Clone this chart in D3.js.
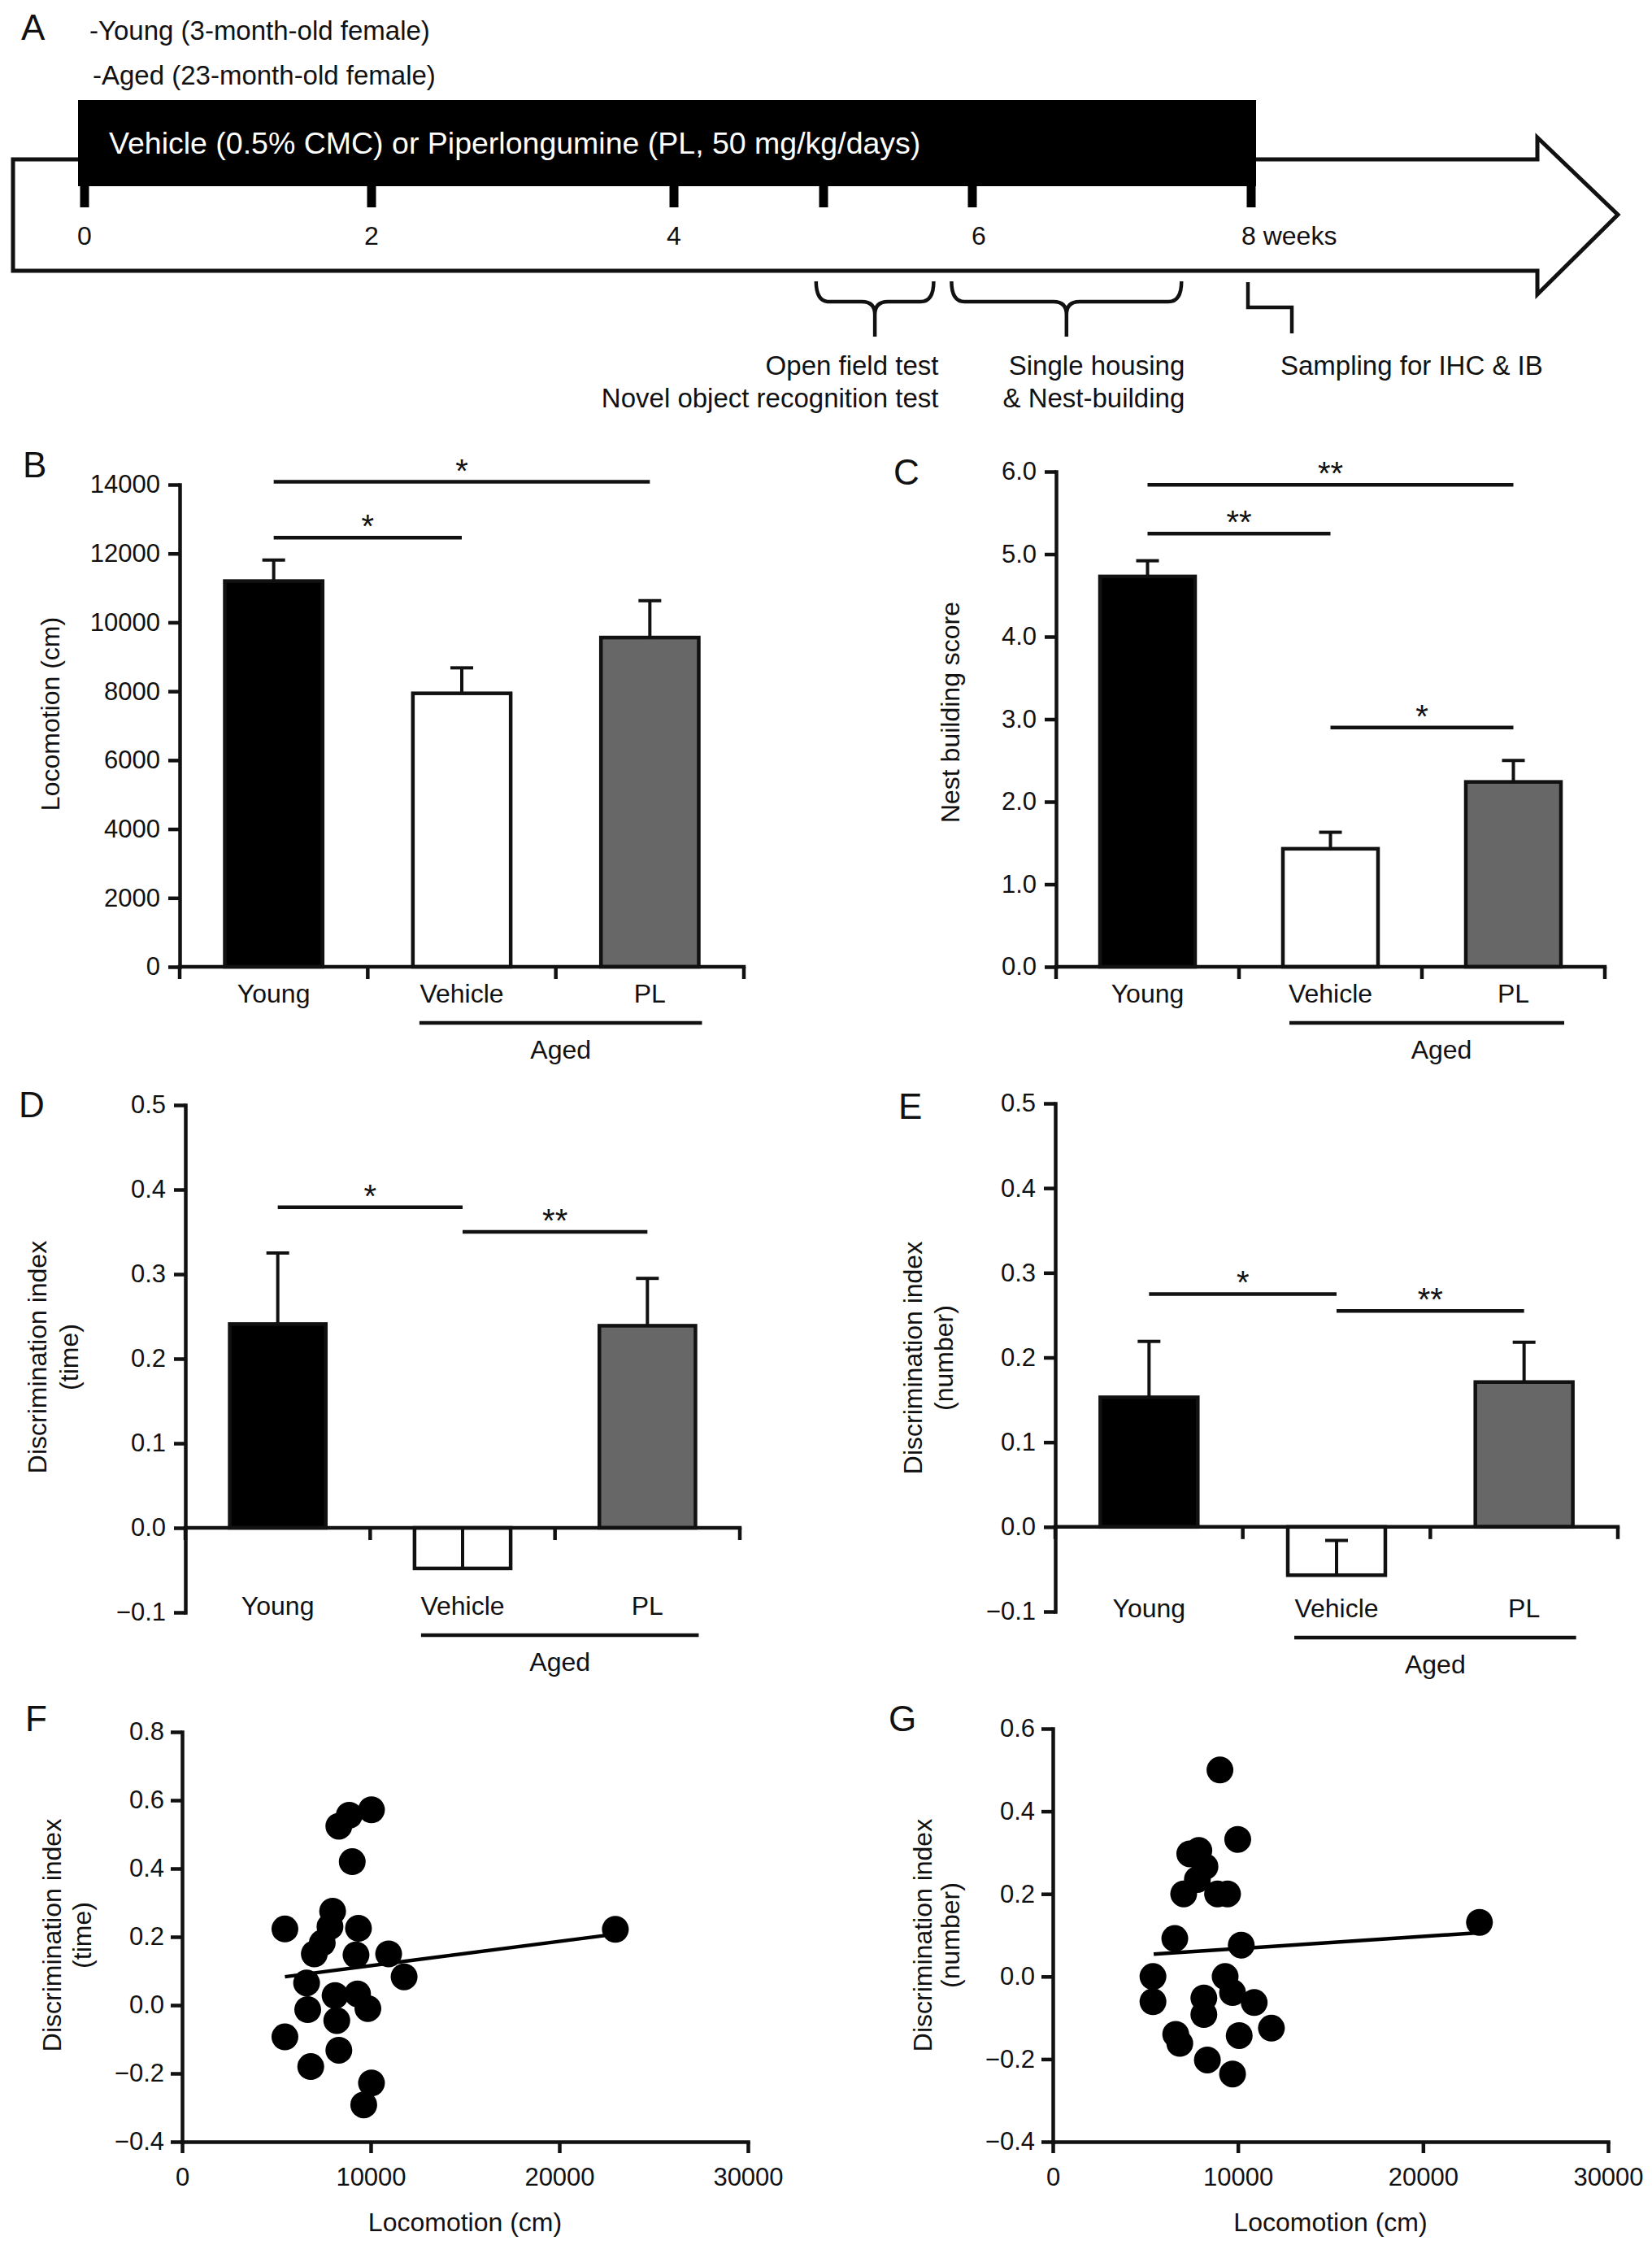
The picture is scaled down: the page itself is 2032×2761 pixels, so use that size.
<!DOCTYPE html>
<html>
<head>
<meta charset="utf-8">
<script src="https://cdn.jsdelivr.net/npm/d3@7"></script>
<style>
  body { margin: 0; background: #fff; }
  svg text { font-family: 'Liberation Sans', Arial, Helvetica, sans-serif; fill: #111; }
</style>
</head>
<body>
<svg id="fig" width="2032" height="2761"></svg>
<script>
// ---- data ----
const groups = ['Young', 'Vehicle', 'PL'];
const groupFill = ['#000000', '#ffffff', '#676767'];

const locomotionMean = [11200, 7940, 9560];
const locomotionSem = [610, 740, 1070];
const nestMean = [4.73, 1.43, 2.24];
const nestSem = [0.19, 0.20, 0.26];
const diTimeMean = [0.241, -0.048, 0.239];
const diTimeSem = [0.084, 0.048, 0.056];
const diNumMean = [0.153, -0.057, 0.171];
const diNumSem = [0.066, 0.041, 0.047];

// significance brackets: [from, to, level, mark]
const sigB = [['Young', 'Vehicle', 12460, '*'], ['Young', 'PL', 14080, '*']];
const sigC = [['Young', 'Vehicle', 5.25, '**'], ['Young', 'PL', 5.84, '**'], ['Vehicle', 'PL', 2.90, '*']];
const sigD = [['Young', 'Vehicle', 0.379, '*'], ['Vehicle', 'PL', 0.350, '**']];
const sigE = [['Young', 'Vehicle', 0.275, '*'], ['Vehicle', 'PL', 0.255, '**']];

const ticksB = [0, 2000, 4000, 6000, 8000, 10000, 12000, 14000];
const ticksC = [0, 1, 2, 3, 4, 5, 6];
const ticksDE = [-0.1, 0, 0.1, 0.2, 0.3, 0.4, 0.5];
const ticksF = [-0.4, -0.2, 0, 0.2, 0.4, 0.6, 0.8];
const ticksG = [-0.4, -0.2, 0, 0.2, 0.4, 0.6];
const ticksLoco = [0, 10000, 20000, 30000];

// scatter: locomotion (cm) vs discrimination index
const locF = [5450, 5450, 6820, 6600, 6660, 7010, 7430, 7840, 7980, 8110, 8200, 8310, 8310,
  8860, 9020, 9350, 9220, 9300, 9850, 10040, 10040, 9630, 10950, 11770, 22970];
const diF = [0.223, -0.093, -0.180, 0.065, -0.013, 0.150, 0.182, 0.230, 0.275, 0.028, -0.045, -0.132, 0.524,
  0.556, 0.420, 0.225, 0.147, 0.033, -0.010, 0.572, -0.228, -0.292, 0.150, 0.083, 0.222];
const locG = [9030, 9990, 7400, 7890, 8220, 7810, 7070, 8900, 9440, 6590, 10180, 5410, 5410,
  9310, 9710, 10880, 8160, 8160, 6640, 6860, 10070, 11810, 8350, 9710, 23050];
const diG = [0.500, 0.332, 0.297, 0.305, 0.266, 0.235, 0.200, 0.200, 0.200, 0.092, 0.076, 0.0, -0.061,
  0.0, -0.039, -0.063, -0.052, -0.092, -0.140, -0.162, -0.143, -0.125, -0.202, -0.236, 0.131];
const fitF = [[5450, 0.083], [23000, 0.208]];
const fitG = [[5450, 0.054], [23000, 0.106]];

// timeline (panel A)
const weeks = [0, 2, 4, 5, 6, 8];
const weekLabels = ['0', '2', '4', '', '6', '8 weeks'];
const phaseWeeks = [[4.95, 5.74], [5.86, 7.5]];

const svg = d3.select('#fig');
const LW = 4.5;

// ---------------- panel A ----------------
const weekX = d3.scaleLinear().domain(weeks).range([104, 457, 829, 1013, 1196, 1539]);
const gA = svg.append('g');

gA.append('text').attr('x', 26).attr('y', 49).attr('font-size', 44).text('A');
gA.append('text').attr('x', 110).attr('y', 49).attr('font-size', 33).text('-Young (3-month-old female)');
gA.append('text').attr('x', 114).attr('y', 104).attr('font-size', 33).text('-Aged (23-month-old female)');

const arrowPts = [[16, 196], [1891, 196], [1891, 169], [1990, 264], [1891, 362], [1891, 333], [16, 333]];
gA.append('path')
  .attr('d', d3.line()(arrowPts) + 'Z')
  .attr('fill', '#fff').attr('stroke', '#111').attr('stroke-width', 5);

gA.append('rect')
  .attr('x', weekX(0) - 8).attr('y', 123)
  .attr('width', weekX(8) + 6 - (weekX(0) - 8)).attr('height', 106)
  .attr('fill', '#000');
gA.append('text').attr('x', 134).attr('y', 189).attr('font-size', 37.5)
  .style('fill', '#fff')
  .text('Vehicle (0.5% CMC) or Piperlongumine (PL, 50 mg/kg/days)');

gA.selectAll('line.wk').data(weeks).join('line')
  .attr('x1', d => weekX(d)).attr('x2', d => weekX(d))
  .attr('y1', 226).attr('y2', 255)
  .attr('stroke', '#000').attr('stroke-width', 11);

gA.selectAll('text.wk').data(weeks).join('text')
  .attr('x', (d, i) => i === weeks.length - 1 ? weekX(d) - 12 : weekX(d) + (d === 6 ? 8 : 0))
  .attr('y', 301)
  .attr('font-size', 32)
  .attr('text-anchor', (d, i) => i === weeks.length - 1 ? 'start' : 'middle')
  .text((d, i) => weekLabels[i]);

function brace(xa, xb, yTop, yMid, yBot) {
  const r = 16, xc = (xa + xb) / 2;
  return `M${xa},${yTop} Q${xa},${yMid} ${xa + r},${yMid} L${xc - r},${yMid} Q${xc},${yMid} ${xc},${yMid + r} L${xc},${yBot}` +
    ` M${xc},${yMid + r} Q${xc},${yMid} ${xc + r},${yMid} L${xb - r},${yMid} Q${xb},${yMid} ${xb},${yTop}`;
}
phaseWeeks.forEach(pw => {
  gA.append('path')
    .attr('d', brace(weekX(pw[0]), weekX(pw[1]), 346, 371, 414))
    .attr('fill', 'none').attr('stroke', '#111').attr('stroke-width', LW);
});
const s8 = weekX(8);
gA.append('path')
  .attr('d', d3.line()([[s8 - 4, 347], [s8 - 4, 378], [s8 + 50, 378], [s8 + 50, 410]]))
  .attr('fill', 'none').attr('stroke', '#111').attr('stroke-width', LW);

const p1r = weekX(phaseWeeks[0][1]) + 6;
const p2r = weekX(phaseWeeks[1][1]) + 4;
gA.append('text').attr('x', p1r).attr('y', 461).attr('font-size', 33).attr('text-anchor', 'end').text('Open field test');
gA.append('text').attr('x', p1r).attr('y', 501).attr('font-size', 33).attr('text-anchor', 'end').text('Novel object recognition test');
gA.append('text').attr('x', p2r).attr('y', 461).attr('font-size', 33).attr('text-anchor', 'end').text('Single housing');
gA.append('text').attr('x', p2r).attr('y', 501).attr('font-size', 33).attr('text-anchor', 'end').text('& Nest-building');
gA.append('text').attr('x', s8 + 36).attr('y', 461).attr('font-size', 33).text('Sampling for IHC & IB');

// ---------------- helpers ----------------
function styleAxis(sel, size) {
  sel.attr('font-size', size).attr('font-family', null);
  sel.select('.domain').attr('stroke', '#111').attr('stroke-width', LW).attr('stroke-linecap', 'square');
  sel.selectAll('.tick line').attr('stroke', '#111').attr('stroke-width', LW);
}

function panelTitle(g, lines, xs, yc) {
  lines.forEach((t, i) => {
    g.append('text')
      .attr('transform', `translate(${xs[i]},${yc}) rotate(-90)`)
      .attr('text-anchor', 'middle').attr('dy', '0.35em')
      .attr('font-size', 32).text(t);
  });
}

function barPanel(p) {
  const g = svg.append('g');
  const y = d3.scaleLinear().domain(p.domain).range(p.yRange);
  const x = d3.scaleBand().domain(groups).range([p.x0, p.x1]).paddingInner(0.48).paddingOuter(0.24);
  const bw = x.bandwidth();
  const gap = (x.step() - bw) / 2;
  const y0 = y(0);

  g.selectAll('rect.bar').data(groups).join('rect')
    .attr('x', d => x(d)).attr('width', bw)
    .attr('y', (d, i) => y(Math.max(0, p.means[i])))
    .attr('height', (d, i) => Math.abs(y(p.means[i]) - y0))
    .attr('fill', (d, i) => groupFill[i])
    .attr('stroke', '#111').attr('stroke-width', LW);

  // one-sided SEM bars
  groups.forEach((d, i) => {
    const cx = x(d) + bw / 2;
    const top = y(p.means[i] + p.sems[i]);
    g.append('line').attr('x1', cx).attr('x2', cx)
      .attr('y1', y(p.means[i])).attr('y2', top)
      .attr('stroke', '#111').attr('stroke-width', 4);
    g.append('line').attr('x1', cx - 14).attr('x2', cx + 14)
      .attr('y1', top).attr('y2', top)
      .attr('stroke', '#111').attr('stroke-width', 4);
  });

  const ya = g.append('g').attr('transform', `translate(${p.x0},0)`)
    .call(d3.axisLeft(y).tickValues(p.ticks).tickFormat(p.fmt).tickSize(14).tickPadding(10).tickSizeOuter(0));
  styleAxis(ya, 31);

  g.append('line').attr('x1', p.x0).attr('x2', p.x1).attr('y1', y0).attr('y2', y0)
    .attr('stroke', '#111').attr('stroke-width', LW).attr('stroke-linecap', 'square');
  const bounds = [p.x0].concat(groups.slice(1).map(d => x(d) - gap), [p.x1]);
  g.selectAll('line.bt').data(bounds).join('line')
    .attr('x1', d => d).attr('x2', d => d)
    .attr('y1', y0).attr('y2', y0 + 15)
    .attr('stroke', '#111').attr('stroke-width', LW);

  g.selectAll('text.cat').data(groups).join('text')
    .attr('x', d => x(d) + bw / 2).attr('y', p.labelY)
    .attr('dy', '0.35em').attr('text-anchor', 'middle').attr('font-size', 32)
    .text(d => d);

  const ax0 = x('Vehicle') + 8, ax1 = x('PL') + bw + 4;
  g.append('line').attr('x1', ax0).attr('x2', ax1)
    .attr('y1', p.labelY + 36).attr('y2', p.labelY + 36)
    .attr('stroke', '#111').attr('stroke-width', LW);
  g.append('text').attr('x', (ax0 + ax1) / 2 + p.agedDx).attr('y', p.labelY + 69)
    .attr('dy', '0.35em').attr('text-anchor', 'middle').attr('font-size', 32).text('Aged');

  p.sig.forEach(s => {
    const xa = x(s[0]) + bw / 2, xb = x(s[1]) + bw / 2, ys = y(s[2]);
    g.append('line').attr('x1', xa).attr('x2', xb).attr('y1', ys).attr('y2', ys)
      .attr('stroke', '#111').attr('stroke-width', LW);
    g.append('text').attr('x', (xa + xb) / 2).attr('y', ys)
      .attr('text-anchor', 'middle').attr('font-size', 40).text(s[3]);
  });

  panelTitle(g, p.title, p.titleX, p.titleY);
  g.append('text').attr('x', p.letter[1]).attr('y', p.letter[2]).attr('font-size', 44).text(p.letter[0]);
}

function scatterPanel(p) {
  const g = svg.append('g');
  const x = d3.scaleLinear().domain([0, 30000]).range([p.x0, p.x1]);
  const y = d3.scaleLinear().domain(p.domain).range(p.yRange);

  const xa = g.append('g').attr('transform', `translate(0,${p.yRange[0]})`)
    .call(d3.axisBottom(x).tickValues(ticksLoco).tickFormat(d3.format('d')).tickSize(14).tickPadding(18).tickSizeOuter(0));
  styleAxis(xa, 31);
  const ya = g.append('g').attr('transform', `translate(${p.x0},0)`)
    .call(d3.axisLeft(y).tickValues(p.ticks).tickFormat(d3.format('.1f')).tickSize(14).tickPadding(8).tickSizeOuter(0));
  styleAxis(ya, 31);

  g.selectAll('circle').data(p.xs).join('circle')
    .attr('cx', d => x(d)).attr('cy', (d, i) => y(p.ys[i]))
    .attr('r', 16.5).attr('fill', '#000');

  g.append('path')
    .attr('d', d3.line().x(d => x(d[0])).y(d => y(d[1]))(p.fit))
    .attr('fill', 'none').attr('stroke', '#000').attr('stroke-width', LW);

  g.append('text').attr('x', (p.x0 + p.x1) / 2).attr('y', 2733)
    .attr('dy', '0.35em').attr('text-anchor', 'middle').attr('font-size', 32).text('Locomotion (cm)');
  panelTitle(g, p.title, p.titleX, p.titleY);
  g.append('text').attr('x', p.letter[1]).attr('y', p.letter[2]).attr('font-size', 44).text(p.letter[0]);
}

// ---------------- panels B-E ----------------
barPanel({
  x0: 221, x1: 915, yRange: [1189, 596], domain: [0, 14000], ticks: ticksB, fmt: d3.format('d'),
  means: locomotionMean, sems: locomotionSem, sig: sigB, labelY: 1222, agedDx: 0,
  title: ['Locomotion (cm)'], titleX: [62], titleY: 878, letter: ['B', 28, 587]
});
barPanel({
  x0: 1299, x1: 1974, yRange: [1189, 580], domain: [0, 6], ticks: ticksC, fmt: d3.format('.1f'),
  means: nestMean, sems: nestSem, sig: sigC, labelY: 1222, agedDx: 18,
  title: ['Nest building score'], titleX: [1169], titleY: 876, letter: ['C', 1099, 596]
});
barPanel({
  x0: 228, x1: 910, yRange: [1983, 1359], domain: [-0.1, 0.5], ticks: ticksDE, fmt: d3.format('.1f'),
  means: diTimeMean, sems: diTimeSem, sig: sigD, labelY: 1975, agedDx: 0,
  title: ['Discrimination index', '(time)'], titleX: [46, 85], titleY: 1669, letter: ['D', 23, 1374]
});
barPanel({
  x0: 1298, x1: 1990, yRange: [1982, 1357], domain: [-0.1, 0.5], ticks: ticksDE, fmt: d3.format('.1f'),
  means: diNumMean, sems: diNumSem, sig: sigE, labelY: 1978, agedDx: 0,
  title: ['Discrimination index', '(number)'], titleX: [1123, 1161], titleY: 1670, letter: ['E', 1105, 1376]
});

// ---------------- panels F-G ----------------
scatterPanel({
  x0: 224, x1: 920, yRange: [2634, 2130], domain: [-0.4, 0.8], ticks: ticksF,
  xs: locF, ys: diF, fit: fitF,
  title: ['Discrimination index', '(time)'], titleX: [64, 101], titleY: 2380, letter: ['F', 31, 2129]
});
scatterPanel({
  x0: 1295, x1: 1978, yRange: [2634, 2126], domain: [-0.4, 0.6], ticks: ticksG,
  xs: locG, ys: diG, fit: fitG,
  title: ['Discrimination index', '(number)'], titleX: [1135, 1169], titleY: 2380, letter: ['G', 1093, 2129]
});
</script>
</body>
</html>
